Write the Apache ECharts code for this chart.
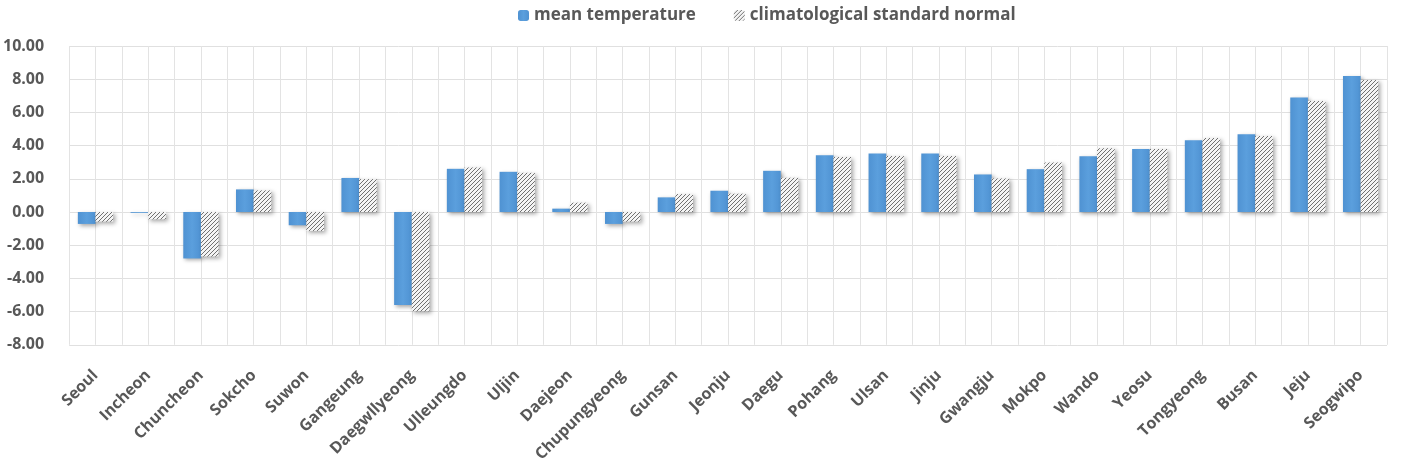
<!DOCTYPE html>
<html>
<head>
<meta charset="utf-8">
<script src="https://cdn.jsdelivr.net/npm/echarts@6/dist/echarts.min.js"></script>
<style>
html,body{margin:0;padding:0;background:#fff;}
#chart{width:1403px;height:465px;}
</style>
</head>
<body>
<div id="chart"></div>
<script>
var categories = ['Seoul','Incheon','Chuncheon','Sokcho','Suwon','Gangeung','Daegwllyeong','Ulleungdo','Uljin','Daejeon','Chupungyeong','Gunsan','Jeonju','Daegu','Pohang','Ulsan','Jinju','Gwangju','Mokpo','Wando','Yeosu','Tongyeong','Busan','Jeju','Seogwipo'];
var meanTemperature = [-0.72,-0.05,-2.8,1.36,-0.8,2.05,-5.6,2.6,2.42,0.2,-0.72,0.88,1.28,2.48,3.42,3.52,3.52,2.26,2.58,3.36,3.8,4.32,4.68,6.9,8.2];
var climateNormal = [-0.58,-0.44,-2.68,1.3,-1.14,1.98,-5.98,2.68,2.36,0.56,-0.58,1.08,1.1,2.06,3.32,3.38,3.38,2.02,2.98,3.84,3.8,4.46,4.58,6.68,7.95];
var yTicks = {min:-8, max:10, interval:2};
var seriesNames = ['mean temperature','climatological standard normal'];

var halfCats = [];
for (var i = 0; i < categories.length * 2; i++) halfCats.push('');

function hatch() {
  var c = document.createElement('canvas');
  c.width = 4; c.height = 4;
  var g = c.getContext('2d');
  g.fillStyle = '#f4f4f4';
  g.fillRect(0,0,4,4);
  g.strokeStyle = '#707070';
  g.lineWidth = 1.0;
  g.beginPath();
  g.moveTo(-1,5); g.lineTo(5,-1);
  g.moveTo(-1,1); g.lineTo(1,-1);
  g.moveTo(3,5); g.lineTo(5,3);
  g.stroke();
  return c;
}

var chart = echarts.init(document.getElementById('chart'));
var labelFont = {fontFamily:'"Open Sans", Lato, sans-serif', fontWeight:'bold', color:'#585858'};
chart.setOption({
  animation:false,
  legend:{
    top:2, left:513, itemWidth:11, itemHeight:11, itemGap:38,
    textStyle:Object.assign({fontSize:17}, labelFont),
    data:seriesNames
  },
  grid:{left:68, right:16, top:46, bottom:119},
  xAxis:[{
    type:'category', data:categories,
    axisLine:{show:false, onZero:false}, axisTick:{show:false},
    splitLine:{show:false},
    axisLabel:Object.assign({interval:0, rotate:45, fontSize:16, margin:28}, labelFont)
  },{
    type:'category', data:halfCats, position:'bottom',
    axisLine:{show:false}, axisTick:{show:false}, axisLabel:{show:false},
    splitLine:{show:true, interval:0, lineStyle:{color:'#e3e3e3', width:1}}
  }],
  yAxis:{
    type:'value', min:yTicks.min, max:yTicks.max, interval:yTicks.interval,
    axisLine:{show:false}, axisTick:{show:false},
    splitLine:{lineStyle:{color:'#e0e0e0', width:1}},
    axisLabel:Object.assign({fontSize:16, margin:25, formatter:function(v){return v.toFixed(2);}}, labelFont)
  },
  series:[{
    name:seriesNames[0], type:'bar', xAxisIndex:0, data:meanTemperature,
    barGap:'0%', barCategoryGap:'33%',
    itemStyle:{
      color:new echarts.graphic.LinearGradient(0,0,1,0,[{offset:0,color:'#4f92d2'},{offset:0.5,color:'#5b9fdd'},{offset:1,color:'#4f92d2'}]),
      shadowColor:'rgba(0,0,0,0.35)', shadowBlur:4, shadowOffsetX:2, shadowOffsetY:2
    }
  },{
    name:seriesNames[1], type:'bar', xAxisIndex:0, data:climateNormal,
    barGap:'0%', barCategoryGap:'33%',
    itemStyle:{
      color:{image:hatch(), repeat:'repeat'},
      shadowColor:'rgba(0,0,0,0.35)', shadowBlur:4, shadowOffsetX:2, shadowOffsetY:2
    }
  }]
});
</script>
</body>
</html>
